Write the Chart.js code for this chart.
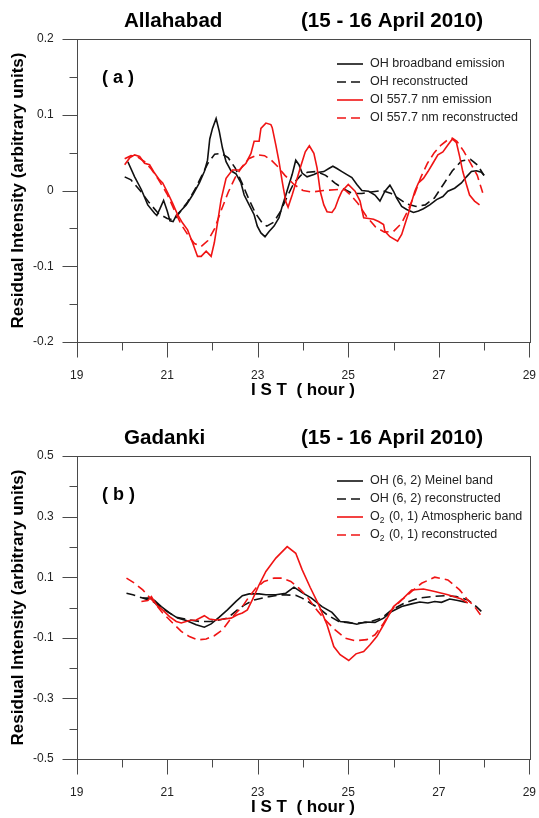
<!DOCTYPE html>
<html>
<head>
<meta charset="utf-8">
<title>Residual intensity, 15 - 16 April 2010</title>
<script src="https://cdn.jsdelivr.net/npm/chart.js@4.4.1/dist/chart.umd.min.js"></script>
<style>
  html, body { margin: 0; padding: 0; background: #fff; }
  #wrap { position: relative; width: 539px; height: 818px; }
  .panel { position: absolute; left: 0; width: 539px; height: 401px; }
</style>
</head>
<body>
<div id="wrap">
  <div class="panel" style="top:0"><canvas id="allahabad" width="539" height="401"></canvas></div>
  <div class="panel" style="top:417px"><canvas id="gadanki" width="539" height="401"></canvas></div>
</div>
<script>
// ---- Allahabad: OH broadband and OI 557.7 nm ----
const ohHours = [20.13,20.28,20.43,20.57,20.72,20.77,20.84,20.92,21.0,21.06,21.13,21.2,21.31,21.42,21.56,21.71,21.82,21.89,21.94,22.0,22.08,22.15,22.22,22.3,22.41,22.52,22.63,22.7,22.81,22.92,22.99,23.07,23.16,23.25,23.36,23.47,23.54,23.62,23.69,23.76,23.84,23.91,23.98,24.09,24.24,24.35,24.46,24.57,24.66,24.75,24.86,24.97,25.08,25.19,25.3,25.45,25.59,25.7,25.81,25.92,26.0,26.07,26.18,26.29,26.44,26.55,26.66,26.8,26.95,27.09,27.2,27.35,27.5,27.61,27.72,27.83,27.94,28.0];
const ohValues = [0.038,0.018,0.001,-0.019,-0.030,-0.033,-0.024,-0.013,-0.027,-0.040,-0.041,-0.033,-0.026,-0.019,-0.006,0.010,0.025,0.040,0.068,0.082,0.095,0.078,0.056,0.038,0.026,0.022,0.010,-0.006,-0.019,-0.032,-0.047,-0.056,-0.061,-0.054,-0.047,-0.036,-0.021,-0.006,0.008,0.021,0.040,0.034,0.023,0.018,0.021,0.024,0.025,0.029,0.032,0.029,0.025,0.021,0.017,0.008,0.000,-0.001,-0.006,-0.014,-0.001,0.007,-0.001,-0.010,-0.021,-0.025,-0.029,-0.027,-0.024,-0.019,-0.012,-0.008,-0.001,0.003,0.010,0.018,0.025,0.026,0.024,0.020];

const ohFitHours = [20.06,20.2,20.4,20.6,20.8,21.0,21.15,21.3,21.45,21.6,21.75,21.9,22.05,22.2,22.35,22.5,22.65,22.8,22.95,23.1,23.2,23.35,23.5,23.65,23.8,23.95,24.1,24.3,24.5,24.7,24.9,25.1,25.3,25.5,25.75,25.95,26.1,26.3,26.5,26.7,26.9,27.1,27.3,27.5,27.7,27.85,28.0];
const ohFitValues = [0.018,0.014,0.000,-0.016,-0.030,-0.037,-0.039,-0.027,-0.015,0.000,0.018,0.036,0.048,0.049,0.043,0.030,0.010,-0.011,-0.030,-0.043,-0.047,-0.042,-0.028,-0.008,0.010,0.020,0.024,0.025,0.020,0.010,0.002,-0.004,-0.004,-0.002,0.000,-0.004,-0.010,-0.018,-0.021,-0.019,-0.010,0.008,0.026,0.039,0.041,0.034,0.020];

const oiHours = [20.06,20.17,20.28,20.39,20.5,20.61,20.72,20.83,20.9,21.01,21.12,21.23,21.34,21.45,21.56,21.67,21.75,21.86,21.97,22.04,22.11,22.19,22.3,22.44,22.59,22.74,22.85,22.92,23.03,23.07,23.18,23.29,23.32,23.4,23.47,23.54,23.62,23.67,23.76,23.84,23.95,24.05,24.14,24.24,24.31,24.38,24.46,24.53,24.64,24.71,24.79,24.86,25.0,25.15,25.26,25.34,25.45,25.56,25.67,25.78,25.81,25.92,26.09,26.18,26.25,26.33,26.4,26.47,26.55,26.66,26.76,26.87,26.98,27.09,27.2,27.3,27.39,27.46,27.53,27.61,27.68,27.79,27.9];
const oiValues = [0.034,0.043,0.047,0.045,0.036,0.034,0.023,0.014,0.010,-0.003,-0.017,-0.032,-0.043,-0.052,-0.069,-0.087,-0.087,-0.080,-0.087,-0.069,-0.043,-0.012,0.016,0.027,0.027,0.036,0.049,0.065,0.065,0.082,0.089,0.087,0.083,0.060,0.038,0.012,-0.015,-0.022,-0.006,0.010,0.032,0.051,0.059,0.049,0.030,-0.001,-0.019,-0.028,-0.029,-0.023,-0.010,-0.001,0.008,-0.001,-0.014,-0.036,-0.037,-0.038,-0.041,-0.045,-0.054,-0.061,-0.067,-0.058,-0.045,-0.030,-0.015,-0.001,0.010,0.016,0.025,0.036,0.047,0.051,0.060,0.068,0.063,0.045,0.025,0.008,-0.006,-0.014,-0.019];

const oiFitHours = [20.06,20.2,20.35,20.5,20.65,20.8,21.0,21.15,21.3,21.45,21.6,21.75,21.9,22.05,22.2,22.35,22.5,22.65,22.8,23.0,23.15,23.3,23.45,23.6,23.8,24.0,24.2,24.45,24.7,24.9,25.05,25.2,25.4,25.6,25.8,26.0,26.18,26.33,26.47,26.6,26.75,26.9,27.05,27.2,27.3,27.4,27.55,27.7,27.85,27.97];
const oiFitValues = [0.042,0.046,0.044,0.038,0.028,0.015,-0.005,-0.025,-0.044,-0.058,-0.070,-0.074,-0.066,-0.050,-0.025,-0.002,0.017,0.031,0.042,0.047,0.046,0.040,0.031,0.020,0.008,0.000,-0.002,0.000,0.001,0.002,-0.006,-0.016,-0.034,-0.048,-0.055,-0.054,-0.043,-0.025,-0.004,0.017,0.036,0.050,0.060,0.067,0.069,0.065,0.052,0.036,0.020,-0.003];

// ---- Gadanki: OH (6, 2) Meinel band and O2 (0, 1) Atmospheric band ----
const meinelHours = [20.46,20.61,20.72,20.87,21.05,21.23,21.42,21.64,21.82,21.97,22.15,22.33,22.52,22.66,22.81,23.03,23.18,23.4,23.62,23.8,23.98,24.18,24.42,24.64,24.82,25.01,25.19,25.37,25.59,25.78,25.96,26.18,26.4,26.58,26.76,26.91,27.06,27.24,27.42,27.61];
const meinelValues = [0.031,0.031,0.023,0.003,-0.018,-0.035,-0.043,-0.057,-0.065,-0.054,-0.032,-0.008,0.020,0.039,0.045,0.045,0.042,0.042,0.047,0.067,0.049,0.032,0.003,-0.016,-0.046,-0.049,-0.055,-0.048,-0.049,-0.035,-0.013,0.003,0.012,0.018,0.015,0.020,0.017,0.028,0.023,0.017];

const meinelFitHours = [20.1,20.24,20.46,20.68,20.94,21.2,21.49,21.71,21.95,22.15,22.33,22.55,22.7,22.92,23.25,23.54,23.84,23.98,24.16,24.35,24.53,24.79,25.1,25.45,25.74,25.96,26.25,26.55,26.84,27.13,27.39,27.64,27.83,27.94];
const meinelFitValues = [0.047,0.042,0.031,0.020,-0.008,-0.032,-0.041,-0.046,-0.046,-0.041,-0.035,-0.008,0.008,0.025,0.036,0.042,0.040,0.031,0.015,-0.002,-0.024,-0.046,-0.052,-0.049,-0.035,-0.008,0.015,0.031,0.036,0.039,0.036,0.025,0.003,-0.013];

const o2Hours = [20.43,20.57,20.65,20.76,20.9,21.05,21.2,21.31,21.49,21.64,21.82,21.93,22.08,22.26,22.41,22.55,22.66,22.77,22.88,23.03,23.18,23.4,23.65,23.84,23.98,24.16,24.35,24.53,24.68,24.82,25.01,25.17,25.34,25.48,25.63,25.78,26.0,26.22,26.4,26.66,26.91,27.2,27.5,27.64];
const o2Values = [0.020,0.023,0.036,0.009,-0.008,-0.030,-0.046,-0.051,-0.043,-0.041,-0.027,-0.038,-0.041,-0.038,-0.035,-0.024,-0.018,-0.008,0.025,0.075,0.119,0.163,0.201,0.179,0.125,0.066,0.008,-0.057,-0.129,-0.156,-0.175,-0.153,-0.145,-0.123,-0.096,-0.057,0.003,0.031,0.058,0.061,0.053,0.042,0.028,0.015];

const o2FitHours = [20.1,20.28,20.46,20.68,20.9,21.12,21.31,21.49,21.67,21.86,22.04,22.22,22.37,22.52,22.66,22.81,22.96,23.14,23.36,23.54,23.73,23.91,24.09,24.27,24.49,24.71,24.93,25.15,25.41,25.59,25.78,25.96,26.18,26.4,26.62,26.91,27.2,27.46,27.64,27.79,27.92];
const o2FitValues = [0.097,0.080,0.058,0.022,-0.018,-0.051,-0.079,-0.096,-0.107,-0.104,-0.093,-0.074,-0.044,-0.018,0.003,0.036,0.064,0.086,0.097,0.097,0.086,0.064,0.036,-0.002,-0.041,-0.074,-0.101,-0.110,-0.106,-0.090,-0.052,-0.008,0.025,0.053,0.080,0.100,0.091,0.058,0.025,0.003,-0.024];

const allahabadLabels = ['OH broadband emission', 'OH reconstructed', 'OI 557.7 nm emission', 'OI 557.7 nm reconstructed'];
const gadankiLabels = ['OH (6, 2) Meinel band', 'OH (6, 2) reconstructed', 'O\u2082 (0, 1) Atmospheric band', 'O\u2082 (0, 1) reconstructed'];
const hourTicks = [19, 21, 23, 25, 27, 29];

const FONT = '"Liberation Sans", Arial, Helvetica, sans-serif';
const BLACK = '#111';
const RED = '#f01414';

Chart.defaults.font.family = FONT;

const pairs = (xs, ys) => xs.map((h, i) => ({ x: h, y: ys[i] }));

function series(label, xs, ys, color, dashed) {
  return {
    label,
    data: pairs(xs, ys),
    borderColor: color,
    borderWidth: 1.6,
    borderDash: dashed ? [9, 5] : [],
    pointRadius: 0,
    fill: false,
    tension: 0,
    order: color === RED ? 0 : 1
  };
}

// frame, outward tick marks, heading, panel tag and legend
const panelDecor = {
  id: 'panelDecor',
  afterDraw(chart, args, o) {
    const { ctx, chartArea: a, scales: { x, y } } = chart;
    const snap = v => Math.round(v) + 0.5;
    ctx.save();
    ctx.strokeStyle = '#4a4a4a';
    ctx.lineWidth = 1;
    ctx.setLineDash([]);
    ctx.strokeRect(snap(a.left), snap(a.top), Math.round(a.right - a.left), Math.round(a.bottom - a.top));
    ctx.beginPath();
    x.ticks.forEach(t => {
      const px = snap(x.getPixelForValue(t.value));
      const major = hourTicks.includes(Math.round(t.value));
      ctx.moveTo(px, snap(a.bottom));
      ctx.lineTo(px, snap(a.bottom) + (major ? 15 : 8));
    });
    y.ticks.forEach((t, i) => {
      const py = snap(y.getPixelForValue(t.value));
      ctx.moveTo(snap(a.left), py);
      ctx.lineTo(snap(a.left) - (i % 2 === 0 ? 15 : 8), py);
    });
    ctx.stroke();

    ctx.fillStyle = '#000';
    ctx.textBaseline = 'middle';
    ctx.font = 'bold 20.6px ' + FONT;
    ctx.fillText(o.site, 124, 21);
    ctx.fillText(o.dates, 301, 21);
    ctx.font = 'bold 18px ' + FONT;
    ctx.fillText(o.tag, 102, 78);

    ctx.font = '12.5px ' + FONT;
    chart.data.datasets.forEach((ds, i) => {
      const ly = 64 + i * 18;
      ctx.beginPath();
      ctx.strokeStyle = ds.borderColor;
      ctx.lineWidth = ds.borderWidth;
      ctx.setLineDash(ds.borderDash);
      ctx.moveTo(337, ly);
      ctx.lineTo(363, ly);
      ctx.stroke();
      ctx.setLineDash([]);
      ctx.fillStyle = '#222';
      const parts = ds.label.split('\u2082');
      let tx = 370;
      ctx.fillText(parts[0], tx, ly);
      if (parts.length > 1) {
        tx += ctx.measureText(parts[0]).width;
        ctx.font = '8.5px ' + FONT;
        ctx.fillText('2', tx, ly + 4);
        tx += ctx.measureText('2').width + 1;
        ctx.font = '12.5px ' + FONT;
        ctx.fillText(parts[1], tx, ly);
      }
    });
    ctx.restore();
  }
};

function fmt(v) {
  if (Math.abs(v) < 1e-9) return '0';
  return v.toFixed(1);
}

// invisible grid: its tick length only pushes the labels away from the axis
const hiddenGrid = len => ({
  display: true,
  color: 'rgba(0,0,0,0)',
  drawOnChartArea: false,
  drawTicks: true,
  tickLength: len
});

function makePanel(id, datasets, yMin, yMax, yStep, decor) {
  return new Chart(document.getElementById(id), {
    type: 'line',
    data: { datasets },
    plugins: [panelDecor],
    options: {
      responsive: false,
      animation: false,
      layout: { padding: { top: 39, right: 7.3, left: 0, bottom: 0 } },
      plugins: {
        legend: { display: false },
        tooltip: { enabled: false },
        panelDecor: decor
      },
      scales: {
        x: {
          type: 'linear',
          min: 19,
          max: 29,
          afterFit: s => { s.height = 59; },
          grid: hiddenGrid(23),
          border: { display: false },
          ticks: {
            stepSize: 1,
            autoSkip: false,
            maxRotation: 0,
            padding: 3,
            color: '#222',
            font: { size: 12 },
            callback: v => hourTicks.includes(v) ? String(v) : ''
          },
          title: {
            display: true,
            text: 'I S T  ( hour )',
            color: '#000',
            font: { size: 17, weight: 'bold' },
            padding: { top: 0, bottom: 0 }
          }
        },
        y: {
          min: yMin,
          max: yMax,
          afterFit: s => { s.width = 76.7; },
          grid: hiddenGrid(20),
          border: { display: false },
          ticks: {
            stepSize: yStep,
            autoSkip: false,
            padding: 3,
            color: '#222',
            font: { size: 12 },
            callback: (v, i) => i % 2 === 0 ? fmt(v) : ''
          },
          title: {
            display: true,
            text: 'Residual Intensity (arbitrary units)',
            color: '#000',
            font: { size: 17, weight: 'bold' },
            padding: { top: 8, bottom: 0 }
          }
        }
      }
    }
  });
}

makePanel('allahabad', [
  series(allahabadLabels[0], ohHours, ohValues, BLACK, false),
  series(allahabadLabels[1], ohFitHours, ohFitValues, BLACK, true),
  series(allahabadLabels[2], oiHours, oiValues, RED, false),
  series(allahabadLabels[3], oiFitHours, oiFitValues, RED, true)
], -0.2, 0.2, 0.05, { site: 'Allahabad', dates: '(15 - 16 April 2010)', tag: '( a )' });

makePanel('gadanki', [
  series(gadankiLabels[0], meinelHours, meinelValues, BLACK, false),
  series(gadankiLabels[1], meinelFitHours, meinelFitValues, BLACK, true),
  series(gadankiLabels[2], o2Hours, o2Values, RED, false),
  series(gadankiLabels[3], o2FitHours, o2FitValues, RED, true)
], -0.5, 0.5, 0.1, { site: 'Gadanki', dates: '(15 - 16 April 2010)', tag: '( b )' });
</script>
</body>
</html>
